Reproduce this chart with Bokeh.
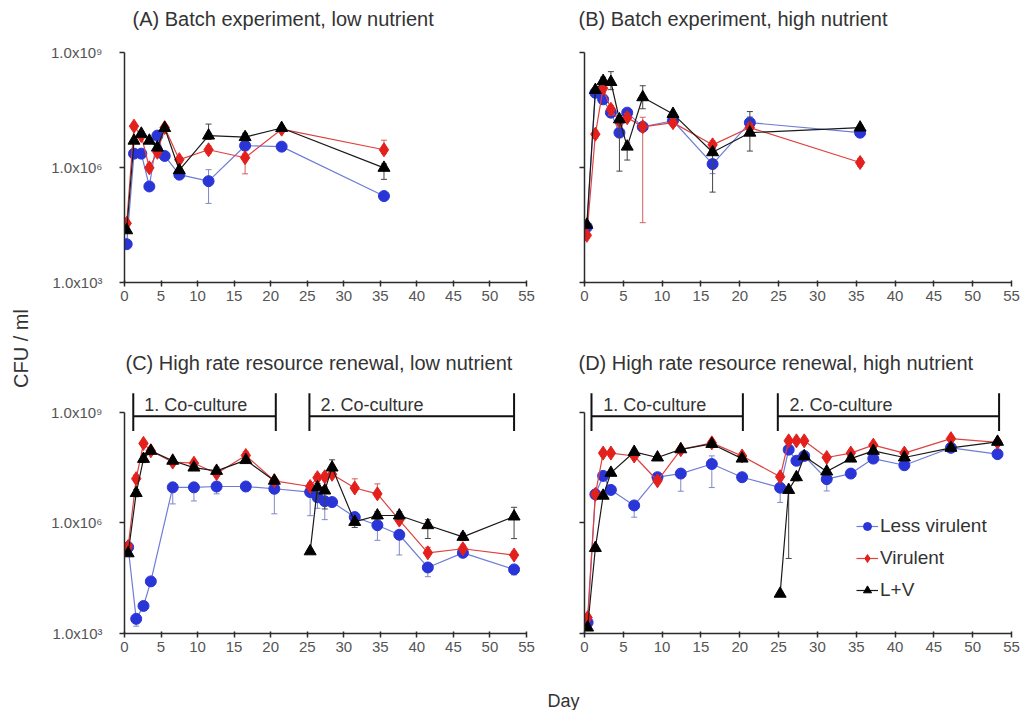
import math
from bokeh.plotting import figure
from bokeh.models import Range1d, FixedTicker, Legend, LegendItem
from bokeh.layouts import row, column
from bokeh.embed import file_html
from bokeh.resources import INLINE
from bokeh.core.properties import value

FONT = "Liberation Sans"

# ---------------- data ----------------
x_ticks = [0, 5, 10, 15, 20, 25, 30, 35, 40, 45, 50, 55]
y_ticks = [1e3, 1e6, 1e9]
y_tick_labels = ["1.0x10³", "1.0x10⁶", "1.0x10⁹"]
series_names = ["Less virulent", "Virulent", "L+V"]
panel_titles = ["(A) Batch experiment, low nutrient",
                "(B) Batch experiment, high nutrient",
                "(C) High rate resource renewal, low nutrient",
                "(D) High rate resource renewal, high nutrient"]
period_labels = ["1. Co-culture", "2. Co-culture"]
x_label = "Day"
y_label = "CFU / ml"

# Panel A
days_a = [0.3, 1.3, 2.3, 3.4, 4.5, 5.5, 7.5, 11.5, 16.5, 21.5, 35.5]
a_less = [1.0e4, 2.3e6, 2.3e6, 3.2e5, 6.8e6, 2.0e6, 6.5e5, 4.4e5, 3.7e6, 3.5e6, 1.8e5]
a_vir = [3.5e4, 1.2e7, 6.8e6, 9.8e5, 2.5e6, 1.1e7, 1.6e6, 2.9e6, 1.8e6, 1.0e7, 2.9e6]
a_lv = [2.3e4, 5.0e6, 7.6e6, 5.0e6, 3.3e6, 1.07e7, 8.5e5, 6.8e6, 6.2e6, 1.07e7, 9.8e5]
a_less_dn = [0.08, 0.1, 0.08, 0.1, 0.1, 0.08, 0.1, 0.58, 0.1, 0.05, 0.05]
a_less_up = [0.05, 0.05, 0.05, 0.1, 0.1, 0.05, 0.05, 0.3, 0.1, 0.05, 0.05]
a_vir_dn = [0.05, 0.05, 0.05, 0.1, 0.1, 0.05, 0.05, 0.1, 0.42, 0.05, 0.1]
a_vir_up = [0.05, 0.05, 0.05, 0.1, 0.1, 0.05, 0.05, 0.1, 0.1, 0.05, 0.25]
a_lv_dn = [0.05, 0.05, 0.05, 0.05, 0.05, 0.05, 0.05, 0.1, 0.1, 0.05, 0.3]
a_lv_up = [0.05, 0.05, 0.05, 0.05, 0.05, 0.05, 0.05, 0.3, 0.1, 0.05, 0.1]

# Panel B
days_b = [0.3, 1.4, 2.4, 3.4, 4.5, 5.5, 7.5, 11.4, 16.5, 21.3, 35.5]
b_less = [2.8e4, 8.9e7, 6.0e7, 2.7e7, 8.1e6, 2.7e7, 1.15e7, 1.66e7, 1.23e6, 1.48e7, 8.1e6]
b_vir = [1.7e4, 7.4e6, 1.17e8, 3.3e7, 1.6e7, 2.0e7, 1.15e7, 1.48e7, 3.9e6, 1.1e7, 1.35e6]
b_lv = [3.2e4, 1.05e8, 1.8e8, 1.7e8, 1.8e7, 3.5e6, 6.8e7, 2.5e7, 2.5e6, 8.1e6, 1.1e7]
b_less_dn = [0.05, 0.1, 0.1, 0.1, 0.1, 0.15, 0.1, 0.1, 0.25, 0.2, 0.1]
b_less_up = [0.05, 0.1, 0.1, 0.1, 0.1, 0.1, 0.1, 0.1, 0.1, 0.15, 0.1]
b_vir_dn = [0.05, 0.1, 0.1, 0.15, 0.15, 0.1, 2.5, 0.1, 0.1, 0.1, 0.1]
b_vir_up = [0.05, 0.1, 0.1, 0.1, 0.1, 0.1, 0.25, 0.1, 0.1, 0.1, 0.1]
b_lv_dn = [0.05, 0.05, 0.1, 0.2, 1.35, 0.35, 0.3, 0.1, 1.04, 0.48, 0.05]
b_lv_up = [0.05, 0.05, 0.1, 0.27, 0.1, 0.1, 0.3, 0.05, 0.1, 0.55, 0.05]

# Panel C
days_c = [0.5, 1.6, 2.6, 3.6, 6.6, 9.5, 12.6, 16.6, 20.5, 25.4, 26.4, 27.4, 28.4,
          31.5, 34.6, 37.6, 41.5, 46.3, 53.3]
c_less = [2.2e5, 2.5e3, 5.6e3, 2.6e4, 9.3e6, 9.3e6, 9.8e6, 9.8e6, 8.5e6, 6.9e6, 5.0e6,
          3.9e6, 3.7e6, 1.45e6, 8.7e5, 4.8e5, 6.2e4, 1.55e5, 5.5e4]
c_vir = [2.3e5, 1.6e7, 1.45e8, 9.1e7, 4.5e7, 4.2e7, 2.2e7, 6.8e7, 1.4e7, 9.8e6, 1.7e7,
         1.8e7, 2.1e7, 8.9e6, 6.2e6, 1.2e6, 1.55e5, 2.0e5, 1.35e5]
c_lv = [1.5e5, 6.5e6, 5.5e7, 9.1e7, 4.9e7, 3.2e7, 2.6e7, 5.1e7, 1.4e7, 1.7e5, 9.3e6,
        7.6e6, 3.2e7, 1.07e6, 1.6e6, 1.6e6, 8.7e5, 4.2e5, 1.5e6]
c_less_dn = [0.1, 0.2, 0.1, 0.1, 0.45, 0.37, 0.2, 0.1, 0.68, 0.64, 0.3, 0.5, 0.1, 0.1,
             0.41, 0.55, 0.25, 0.1, 0.15]
c_less_up = [0.05, 0.05, 0.05, 0.05, 0.05, 0.05, 0.05, 0.05, 0.05, 0.05, 0.05, 0.05,
             0.05, 0.05, 0.05, 0.05, 0.05, 0.05, 0.05]
c_vir_dn = [0.05, 0.05, 0.05, 0.05, 0.05, 0.05, 0.05, 0.05, 0.05, 0.05, 0.05, 0.05,
            0.05, 0.05, 0.05, 0.05, 0.05, 0.05, 0.05]
c_vir_up = [0.05, 0.1, 0.05, 0.05, 0.05, 0.05, 0.05, 0.1, 0.05, 0.1, 0.1, 0.1, 0.1,
            0.25, 0.27, 0.1, 0.15, 0.1, 0.1]
c_lv_dn = [0.05, 0.1, 0.1, 0.05, 0.05, 0.05, 0.05, 0.05, 0.05, 0.05, 0.3, 0.5, 0.1,
           0.15, 0.1, 0.1, 0.36, 0.1, 0.6]
c_lv_up = [0.05, 0.1, 0.05, 0.05, 0.05, 0.05, 0.1, 0.05, 0.05, 0.05, 0.1, 0.1, 0.21,
           0.1, 0.1, 0.1, 0.15, 0.1, 0.25]
c_period_start = [1.2, 25.3]
c_period_end = [20.7, 53.3]

# Panel D
days_d = [0.4, 1.4, 2.4, 3.4, 6.4, 9.4, 12.4, 16.4, 20.3, 25.2, 26.3, 27.3, 28.3,
          31.2, 34.3, 37.2, 41.2, 47.2, 53.2]
d_less = [2.0e3, 6.0e6, 1.9e7, 7.9e6, 3.0e6, 1.75e7, 2.2e7, 4.0e7, 1.75e7, 9.1e6, 9.8e7,
          4.9e7, 6.6e7, 1.55e7, 2.2e7, 5.6e7, 3.7e7, 1.1e8, 7.4e7]
d_vir = [2.7e3, 6.0e6, 7.9e7, 7.9e7, 6.6e7, 1.4e7, 9.8e7, 1.5e8, 6.6e7, 1.8e7, 1.7e8,
         1.7e8, 1.7e8, 6.0e7, 7.9e7, 1.3e8, 7.9e7, 1.95e8, 1.55e8]
d_lv = [1.45e3, 2.1e5, 5.5e6, 2.3e7, 8.5e7, 6.0e7, 1.0e8, 1.4e8, 5.6e7, 1.2e4, 7.9e6,
        1.75e7, 6.5e7, 2.5e7, 5.6e7, 9.1e7, 6.0e7, 1.1e8, 1.6e8]
d_less_dn = [0.05, 0.1, 0.1, 0.1, 0.32, 0.1, 0.48, 0.64, 0.1, 0.4, 0.1, 0.1, 0.1, 0.32,
             0.1, 0.1, 0.1, 0.05, 0.1]
d_less_up = [0.05, 0.05, 0.05, 0.05, 0.05, 0.05, 0.05, 0.22, 0.05, 0.05, 0.05, 0.05,
             0.05, 0.05, 0.05, 0.05, 0.05, 0.05, 0.05]
d_vir_dn = [0.05, 0.05, 0.05, 0.05, 0.05, 0.05, 0.05, 0.05, 0.05, 0.05, 0.05, 0.05,
            0.05, 0.05, 0.05, 0.05, 0.05, 0.05, 0.05]
d_vir_up = [0.05, 0.05, 0.05, 0.05, 0.05, 0.05, 0.05, 0.05, 0.05, 0.05, 0.05, 0.05,
            0.05, 0.05, 0.05, 0.05, 0.05, 0.05, 0.05]
d_lv_dn = [0.05, 0.1, 0.05, 0.05, 0.05, 0.05, 0.05, 0.05, 0.05, 0.05, 1.86, 0.1, 0.05,
           0.05, 0.05, 0.05, 0.05, 0.05, 0.05]
d_lv_up = [0.05, 0.05, 0.05, 0.05, 0.05, 0.05, 0.05, 0.05, 0.05, 0.05, 0.05, 0.05,
           0.05, 0.05, 0.05, 0.05, 0.05, 0.05, 0.05]
d_period_start = [0.9, 24.9]
d_period_end = [20.4, 53.4]

# index where the second co-culture of L+V starts (line is broken there)
lv_restart_index = 9

# ---------------- style ----------------
STYLES = [
    dict(marker="circle", size=11, color="#2a35d8", line="#6f7cd6", err="#7f88c8"),
    dict(marker="diamond", size=14, color="#e3201c", line="#e04040", err="#d06060"),
    dict(marker="triangle", size=12, color="#000000", line="#1a1a1a", err="#444444"),
]
AXIS_COLOR = "#2b2b2b"
TEXT_COLOR = "#333333"
TICK_TEXT = "#555555"

LEFT_W, RIGHT_W = 514, 471
TOP_H, TOP_MBT, TOP_MBB, TOP_YTOP = 290, 22, 38, 1e9
BOT_H, BOT_MBT, BOT_MBB, BOT_YTOP = 296, 5, 43, 10 ** 9.733
STRIP1_H, STRIP2_H, XLAB_H = 30, 60, 34
TOTAL_H = STRIP1_H + TOP_H + STRIP2_H + BOT_H + XLAB_H


def make_panel(width, height, mbl, mbr, mbt, mbb, ytop, show_ylabels):
    p = figure(width=width, height=height, y_axis_type="log",
               x_range=Range1d(0, 55), y_range=Range1d(1e3, ytop),
               output_backend="svg", toolbar_location=None,
               min_border_left=mbl, min_border_right=mbr,
               min_border_top=mbt, min_border_bottom=mbb)
    p.outline_line_color = None
    p.grid.visible = False
    p.xaxis.ticker = FixedTicker(ticks=x_ticks)
    p.yaxis.ticker = FixedTicker(ticks=y_ticks)
    p.xaxis.bounds = (0, 55)
    p.yaxis.bounds = (1e3, 1e9)
    for ax in (p.xaxis[0], p.yaxis[0]):
        ax.axis_line_color = AXIS_COLOR
        ax.axis_line_width = 1.5
        ax.major_tick_line_color = AXIS_COLOR
        ax.major_tick_line_width = 1.5
        ax.minor_tick_line_color = None
        ax.major_label_text_font = FONT
        ax.major_label_text_font_size = "15px"
        ax.major_label_text_color = TICK_TEXT
    p.xaxis.major_tick_out = 4
    p.xaxis.major_tick_in = 2
    p.xaxis.major_label_standoff = 4
    p.yaxis.major_tick_out = 5
    p.yaxis.major_tick_in = 0
    p.yaxis.major_label_standoff = 17
    if show_ylabels:
        p.yaxis.major_label_overrides = {t: lab for t, lab in zip(y_ticks, y_tick_labels)}
    else:
        p.yaxis.major_label_overrides = {t: "" for t in y_ticks}
    return p


def make_strip(width, height):
    s = figure(width=width, height=height, x_range=Range1d(0, width), y_range=Range1d(0, height),
               output_backend="svg", toolbar_location=None,
               x_axis_location=None, y_axis_location=None, min_border=0)
    s.outline_line_color = None
    s.grid.visible = False
    return s


def add_series(p, days, vals, dn, up, style, split=None):
    lower = [v / 10 ** e for v, e in zip(vals, dn)]
    upper = [v * 10 ** e for v, e in zip(vals, up)]
    p.segment(x0=days, y0=lower, x1=days, y1=upper, line_color=style["err"], line_width=1)
    p.scatter(x=days + days, y=lower + upper, marker="dash", size=6,
              line_color=style["err"], line_width=1)
    if split is None:
        lr = p.line(x=days, y=vals, line_color=style["line"], line_width=1.2)
    else:
        lr = p.line(x=days[:split], y=vals[:split], line_color=style["line"], line_width=1.2)
        p.line(x=days[split:], y=vals[split:], line_color=style["line"], line_width=1.2)
    sr = p.scatter(x=days, y=vals, marker=style["marker"], size=style["size"],
                   fill_color=style["color"], line_color=style["color"])
    return lr, sr


def add_periods(p, starts, ends):
    y_bar = 10 ** 8.9
    y_lo = 10 ** 8.5
    y_hi = 10 ** 9.52
    p.segment(x0=starts, y0=[y_bar] * len(starts), x1=ends, y1=[y_bar] * len(ends),
              line_color="#111111", line_width=2)
    p.segment(x0=starts + ends, y0=[y_lo] * (len(starts) + len(ends)),
              x1=starts + ends, y1=[y_hi] * (len(starts) + len(ends)),
              line_color="#111111", line_width=2)
    p.text(x=[s + 1.5 for s in starts], y=[10 ** 9.2] * len(starts), text=period_labels,
           text_font=value(FONT), text_font_size="18px", text_color=TEXT_COLOR,
           text_baseline="alphabetic", text_align="left")


pa = make_panel(LEFT_W, TOP_H, 86, 26, TOP_MBT, TOP_MBB, TOP_YTOP, True)
pb = make_panel(RIGHT_W, TOP_H, 32, 12, TOP_MBT, TOP_MBB, TOP_YTOP, False)
pc = make_panel(LEFT_W, BOT_H, 86, 26, BOT_MBT, BOT_MBB, BOT_YTOP, True)
pd = make_panel(RIGHT_W, BOT_H, 32, 12, BOT_MBT, BOT_MBB, BOT_YTOP, False)

add_series(pa, days_a, a_less, a_less_dn, a_less_up, STYLES[0])
add_series(pa, days_a, a_vir, a_vir_dn, a_vir_up, STYLES[1])
add_series(pa, days_a, a_lv, a_lv_dn, a_lv_up, STYLES[2])

add_series(pb, days_b, b_less, b_less_dn, b_less_up, STYLES[0])
add_series(pb, days_b, b_vir, b_vir_dn, b_vir_up, STYLES[1])
add_series(pb, days_b, b_lv, b_lv_dn, b_lv_up, STYLES[2])

add_series(pc, days_c, c_less, c_less_dn, c_less_up, STYLES[0])
add_series(pc, days_c, c_vir, c_vir_dn, c_vir_up, STYLES[1])
add_series(pc, days_c, c_lv, c_lv_dn, c_lv_up, STYLES[2], split=lv_restart_index)

rd = [add_series(pd, days_d, d_less, d_less_dn, d_less_up, STYLES[0]),
      add_series(pd, days_d, d_vir, d_vir_dn, d_vir_up, STYLES[1]),
      add_series(pd, days_d, d_lv, d_lv_dn, d_lv_up, STYLES[2], split=lv_restart_index)]

add_periods(pc, c_period_start, c_period_end)
add_periods(pd, d_period_start, d_period_end)

legend = Legend(items=[LegendItem(label=n, renderers=[lr, sr]) for n, (lr, sr) in zip(series_names, rd)],
                location=(272, 32), orientation="vertical")
legend.background_fill_alpha = 0
legend.border_line_color = None
legend.padding = 0
legend.margin = 0
legend.spacing = 10
legend.glyph_height = 20
legend.glyph_width = 22
legend.label_height = 20
legend.label_standoff = 2
legend.label_text_font = FONT
legend.label_text_font_size = "19px"
legend.label_text_color = TEXT_COLOR
pd.add_layout(legend)

# panel title strips
strip1 = make_strip(LEFT_W + RIGHT_W, STRIP1_H)
strip1.text(x=[94, 540], y=[12, 12], text=panel_titles[:2], text_align="left",
            text_baseline="middle", text_font=value(FONT), text_font_size="20px",
            text_color=TEXT_COLOR)
strip2 = make_strip(LEFT_W + RIGHT_W, STRIP2_H)
strip2.text(x=[87, 540], y=[18, 18], text=panel_titles[2:], text_align="left",
            text_baseline="middle", text_font=value(FONT), text_font_size="20px",
            text_color=TEXT_COLOR)

# x-axis title strip
xlab = make_strip(LEFT_W + RIGHT_W, XLAB_H)
xlab.text(x=[525], y=[10], text=[x_label], text_align="center", text_baseline="middle",
          text_font=value(FONT), text_font_size="18px", text_color=TEXT_COLOR)

# y-axis title strip
ylab = make_strip(38, TOTAL_H)
ylab.text(x=[20], y=[TOTAL_H - 348], text=[y_label], angle=math.pi / 2, text_align="center",
          text_baseline="middle", text_font=value(FONT), text_font_size="20px",
          text_color=TEXT_COLOR)

layout = row(ylab, column(strip1, row(pa, pb), strip2, row(pc, pd), xlab))

open("out.html", "w").write(file_html(layout, INLINE))
